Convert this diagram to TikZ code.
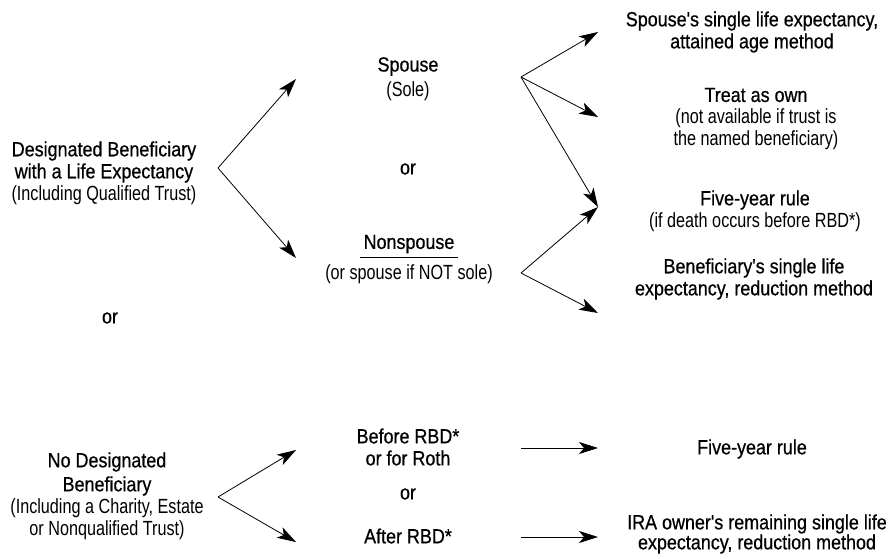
\documentclass[tikz,border=0pt]{standalone}
\usepackage{fontspec}
\setmainfont{Liberation Sans}[FakeStretch=0.79]
\newfontfamily\hdfont{Liberation Sans}[FakeStretch=0.875,FakeBold=0.6]
\usetikzlibrary{arrows.meta}
\begin{document}
\begin{tikzpicture}[x=1pt,y=-1pt,
  lbl/.style={align=center,inner sep=0pt,font=\fontsize{20.5}{22}\selectfont},
  arr/.style={line width=0.8pt,-{Stealth[length=19pt,width=12pt,inset=5pt]}}]
\useasboundingbox (0,0) rectangle (896,558);
% left column
\node[lbl] (desig) at (104,173) {{\hdfont Designated Beneficiary}\\{\hdfont with a Life Expectancy}\\(Including Qualified Trust)};
\node[lbl] (orA) at (110,318) {\hdfont or};
\node[lbl] (nodes) at (107,496) {{\hdfont No Designated}\\[2pt]{\hdfont Beneficiary}\\(Including a Charity, Estate\\or Nonqualified Trust)};
% middle column
\node[lbl] (spouse) at (408,79) {{\hdfont Spouse}\\[3pt](Sole)};
\node[lbl] (orB) at (408,169) {\hdfont or};
\node[lbl] (nonsp) at (409,244) {\hdfont Nonspouse};
\node[lbl] (nonspb) at (409,274) {(or spouse if NOT sole)};
\draw[line width=0.8pt] (360,257) -- (458,257);
\node[lbl] (before) at (408,447) {{\hdfont Before RBD*}\\{\hdfont or for Roth}};
\node[lbl] (orC) at (408,494) {\hdfont or};
\node[lbl] (after) at (408,536) {\hdfont After RBD*};
% right column
\node[lbl] (slife) at (752,32) {{\hdfont Spouse's single life expectancy,}\\{\hdfont attained age method}};
\node[lbl] (own) at (756,119) {{\hdfont Treat as own}\\(not available if trust is\\the named beneficiary)};
\node[lbl] (five) at (755,211) {{\hdfont Five-year rule}\\(if death occurs before RBD*)};
\node[lbl] (bene) at (754,279) {{\hdfont Beneficiary's single life}\\{\hdfont expectancy, reduction method}};
\node[lbl] (fiveB) at (752,449) {\hdfont Five-year rule};
\node[lbl] (ira) at (757,534) {{\hdfont IRA owner's remaining single life}\\[-2pt]{\hdfont expectancy, reduction method}};
% vertices and tips
\coordinate (v1) at (218,168);
\coordinate (t1) at (296,79);
\coordinate (t2) at (296,258);
\coordinate (v2) at (521,77);
\coordinate (t3) at (598,32);
\coordinate (t4) at (598,117);
\coordinate (t5) at (598,207);
\coordinate (v3) at (521,273);
\coordinate (t6) at (598,313);
\coordinate (v4) at (218,497);
\coordinate (t7) at (296,450);
\coordinate (t8) at (296,542);
\coordinate (h1) at (521,448);
\coordinate (h1e) at (598,448);
\coordinate (h2) at (521,537);
\coordinate (h2e) at (598,537);
\draw[arr] (v1) -- (t1);
\draw[arr] (v1) -- (t2);
\draw[arr] (v2) -- (t3);
\draw[arr] (v2) -- (t4);
\draw[arr] (v2) -- (t5);
\draw[arr] (v3) -- (t5);
\draw[arr] (v3) -- (t6);
\draw[arr] (v4) -- (t7);
\draw[arr] (v4) -- (t8);
\draw[arr] (h1) -- (h1e);
\draw[arr] (h2) -- (h2e);
\end{tikzpicture}
\end{document}
